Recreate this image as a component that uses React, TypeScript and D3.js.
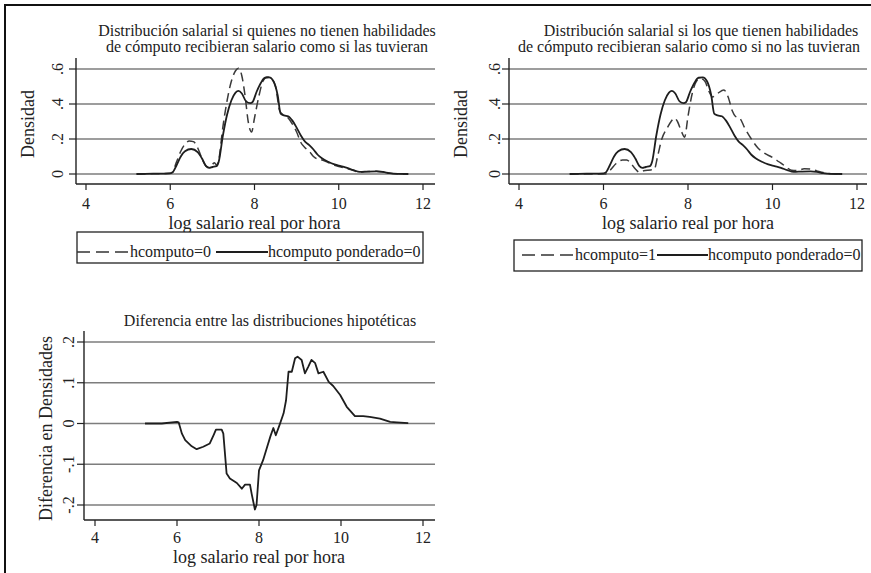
import React from "react";
import * as d3 from "d3";

// log hourly real wage grid points and kernel density estimates
const xPonderado = [5.2, 5.6, 6.0, 6.05, 6.15, 6.25, 6.35, 6.5, 6.65, 6.75, 6.85, 6.92, 7.0, 7.1, 7.15, 7.25, 7.35, 7.45, 7.55, 7.62, 7.7, 7.8, 7.9, 7.95, 8.05, 8.15, 8.25, 8.35, 8.45, 8.55, 8.62, 8.7, 8.8, 8.9, 9.0, 9.1, 9.2, 9.3, 9.4, 9.5, 9.6, 9.75, 9.9, 10.05, 10.2, 10.35, 10.5, 10.7, 10.9, 11.05, 11.2, 11.4, 11.65];
const yPonderado = [0, 0.002, 0.004, 0.008, 0.05, 0.1, 0.13, 0.143, 0.125, 0.09, 0.045, 0.035, 0.04, 0.045, 0.07, 0.22, 0.34, 0.42, 0.465, 0.475, 0.46, 0.415, 0.405, 0.41, 0.47, 0.52, 0.55, 0.552, 0.53, 0.45, 0.345, 0.335, 0.33, 0.305, 0.265, 0.22, 0.185, 0.165, 0.14, 0.11, 0.09, 0.07, 0.055, 0.045, 0.035, 0.022, 0.012, 0.014, 0.015, 0.012, 0.005, 0.001, 0];

const xH0 = [5.2, 6.0, 6.05, 6.15, 6.25, 6.35, 6.45, 6.55, 6.65, 6.75, 6.85, 6.9, 7.0, 7.05, 7.1, 7.15, 7.25, 7.35, 7.45, 7.55, 7.62, 7.7, 7.78, 7.85, 7.93, 8.0, 8.1, 8.2, 8.3, 8.4, 8.5, 8.6, 8.7, 8.8, 8.9, 9.0, 9.1, 9.2, 9.3, 9.4, 9.5, 9.6, 9.75, 9.9, 10.05, 10.2, 10.35, 10.5, 10.7, 10.9, 11.05, 11.2, 11.4, 11.65];
const yH0 = [0, 0.004, 0.01, 0.07, 0.13, 0.17, 0.188, 0.185, 0.15, 0.09, 0.045, 0.04, 0.055, 0.065, 0.05, 0.08, 0.27, 0.42, 0.53, 0.59, 0.605, 0.56, 0.44, 0.3, 0.24, 0.32, 0.44, 0.53, 0.555, 0.545, 0.5, 0.36, 0.335, 0.32, 0.285, 0.24, 0.18, 0.15, 0.13, 0.1, 0.085, 0.08, 0.065, 0.05, 0.04, 0.03, 0.02, 0.01, 0.014, 0.016, 0.012, 0.005, 0.001, 0];

const xH1 = [5.2, 6.05, 6.15, 6.3, 6.45, 6.55, 6.65, 6.75, 6.85, 6.95, 7.05, 7.2, 7.28, 7.38, 7.5, 7.6, 7.68, 7.75, 7.85, 7.92, 8.0, 8.1, 8.2, 8.3, 8.4, 8.5, 8.58, 8.7, 8.85, 8.95, 9.05, 9.12, 9.22, 9.35, 9.5, 9.65, 9.8, 10.0, 10.15, 10.3, 10.45, 10.6, 10.75, 10.9, 11.05, 11.2, 11.4, 11.65];
const yH1 = [0, 0, 0.02, 0.06, 0.08, 0.08, 0.06, 0.03, 0.01, 0.018, 0.022, 0.025, 0.1, 0.2, 0.26, 0.3, 0.32, 0.3, 0.24, 0.21, 0.33, 0.46, 0.53, 0.545, 0.53, 0.47, 0.44, 0.46, 0.48, 0.44, 0.36, 0.33, 0.32, 0.26, 0.2, 0.15, 0.12, 0.095, 0.07, 0.045, 0.022, 0.02, 0.03, 0.028, 0.018, 0.008, 0.002, 0];

const xDiff = [5.22, 5.63, 6.0, 6.04, 6.12, 6.2, 6.36, 6.48, 6.64, 6.8, 6.89, 6.95, 7.09, 7.13, 7.21, 7.29, 7.46, 7.58, 7.66, 7.78, 7.82, 7.9, 7.94, 8.0, 8.1, 8.2, 8.28, 8.35, 8.41, 8.5, 8.6, 8.66, 8.72, 8.8, 8.88, 8.94, 9.04, 9.12, 9.2, 9.28, 9.37, 9.45, 9.57, 9.7, 9.81, 9.98, 10.14, 10.34, 10.54, 10.7, 10.95, 11.2, 11.36, 11.64];
const yDiff = [0, 0, 0.004, 0.003, -0.025, -0.041, -0.056, -0.063, -0.057, -0.049, -0.029, -0.015, -0.015, -0.025, -0.123, -0.135, -0.146, -0.16, -0.15, -0.15, -0.172, -0.211, -0.2, -0.115, -0.09, -0.057, -0.031, -0.011, -0.029, -0.004, 0.025, 0.057, 0.127, 0.127, 0.16, 0.164, 0.156, 0.123, 0.139, 0.156, 0.148, 0.123, 0.127, 0.102, 0.092, 0.07, 0.041, 0.018, 0.018, 0.016, 0.012, 0.004, 0.003, 0.001];

const xTicks = [4, 6, 8, 10, 12];
const yTicksDens = [0, 0.2, 0.4, 0.6];
const yTicksDiff = [-0.2, -0.1, 0, 0.1, 0.2];

const fmt = (v: number) => {
  if (v === 0) return "0";
  const s = String(Math.round(v * 10) / 10);
  return s.replace("0.", ".");
};

const FONT = "'Liberation Serif', 'Times New Roman', serif";

type Series = { xs: number[]; ys: number[]; dashed?: boolean; smooth?: boolean };

type PanelProps = {
  xRange: [number, number];
  axisLeft: number;
  plotRight: number;
  yDomain: [number, number];
  yRange: [number, number];
  axisTop: number;
  axisBottom: number;
  yTicks: number[];
  series: Series[];
  titles: { text: string; x: number; y: number }[];
  yLabel: string;
  yLabelX: number;
  yTickX: number;
  tickBaseline: number;
  xLabelBaseline: number;
};

function Panel(p: PanelProps) {
  const x = d3.scaleLinear().domain([4, 12]).range(p.xRange);
  const y = d3.scaleLinear().domain(p.yDomain).range(p.yRange);
  const yMid = (p.axisTop + p.axisBottom) / 2;
  return (
    <g>
      {p.titles.map((t, i) => (
        <text key={i} x={t.x} y={t.y} textAnchor="middle" fontSize={16} fontFamily={FONT} fill="#222">
          {t.text}
        </text>
      ))}
      {p.yTicks.map((t) => (
        <line key={"g" + t} x1={p.axisLeft} x2={p.plotRight} y1={y(t)} y2={y(t)} stroke="#7d7d7d" strokeWidth={1.5} />
      ))}
      {p.series.map((s, i) => {
        const gen = d3
          .line<number>()
          .x((_, j) => x(s.xs[j]))
          .y((v) => y(v))
          .curve(s.smooth ? d3.curveMonotoneX : d3.curveLinear);
        return (
          <path
            key={i}
            d={gen(s.ys) || ""}
            fill="none"
            stroke={s.dashed ? "#3a3a3a" : "#1e1e1e"}
            strokeWidth={s.dashed ? 1.5 : 1.8}
            strokeDasharray={s.dashed ? "9,5" : undefined}
            strokeLinejoin="round"
          />
        );
      })}
      {/* axes */}
      <line x1={p.axisLeft} x2={p.axisLeft} y1={p.axisTop} y2={p.axisBottom} stroke="#222" strokeWidth={1.4} />
      <line x1={p.axisLeft} x2={p.plotRight} y1={p.axisBottom} y2={p.axisBottom} stroke="#222" strokeWidth={1.4} />
      {p.yTicks.map((t) => (
        <g key={"yt" + t}>
          <line x1={p.axisLeft - 7} x2={p.axisLeft} y1={y(t)} y2={y(t)} stroke="#222" strokeWidth={1.2} />
          <text
            transform={`translate(${p.yTickX},${y(t)}) rotate(-90)`}
            textAnchor="middle"
            dominantBaseline="central"
            fontSize={16}
            fontFamily={FONT}
            fill="#222"
          >
            {fmt(t)}
          </text>
        </g>
      ))}
      {xTicks.map((t) => (
        <g key={"xt" + t}>
          <line x1={x(t)} x2={x(t)} y1={p.axisBottom} y2={p.axisBottom + 6} stroke="#222" strokeWidth={1.2} />
          <text x={x(t)} y={p.tickBaseline} textAnchor="middle" fontSize={16} fontFamily={FONT} fill="#222">
            {t}
          </text>
        </g>
      ))}
      <text x={(x(4) + x(12)) / 2} y={p.xLabelBaseline} textAnchor="middle" fontSize={18} fontFamily={FONT} fill="#222">
        log salario real por hora
      </text>
      <text
        transform={`translate(${p.yLabelX},${yMid + 3}) rotate(-90)`}
        textAnchor="middle"
        dominantBaseline="central"
        fontSize={18}
        fontFamily={FONT}
        fill="#222"
      >
        {p.yLabel}
      </text>
    </g>
  );
}

type LegendProps = {
  left: number;
  top: number;
  width: number;
  height: number;
  dashFrom: number;
  dashTo: number;
  label1: string;
  label1X: number;
  solidFrom: number;
  solidTo: number;
  label2X: number;
  lineY: number;
  baseline: number;
};

function Legend(l: LegendProps) {
  return (
    <g>
      <rect x={l.left} y={l.top} width={l.width} height={l.height} fill="#fff" stroke="#222" strokeWidth={1.3} />
      <line x1={l.dashFrom} x2={l.dashTo} y1={l.lineY} y2={l.lineY} stroke="#333" strokeWidth={1.5} strokeDasharray="13,6" />
      <text x={l.label1X} y={l.baseline} fontSize={16} fontFamily={FONT} fill="#222">
        {l.label1}
      </text>
      <line x1={l.solidFrom} x2={l.solidTo} y1={l.lineY} y2={l.lineY} stroke="#1e1e1e" strokeWidth={1.8} />
      <text x={l.label2X} y={l.baseline} fontSize={16} fontFamily={FONT} fill="#222">
        hcomputo ponderado=0
      </text>
    </g>
  );
}

export default function App() {
  return (
    <svg
      width={871}
      height={573}
      style={{ position: "absolute", left: 0, top: 0, background: "#fff" }}
      xmlns="http://www.w3.org/2000/svg"
    >
      <rect x={0} y={0} width={871} height={573} fill="#fff" />
      <rect x={5} y={5} width={900} height={600} fill="none" stroke="#111" strokeWidth={2} />

      <Panel
        xRange={[86, 423]}
        axisLeft={76}
        plotRight={435}
        yDomain={[0, 0.6]}
        yRange={[174, 69]}
        axisTop={58}
        axisBottom={184}
        yTicks={yTicksDens}
        series={[
          { xs: xH0, ys: yH0, dashed: true, smooth: true },
          { xs: xPonderado, ys: yPonderado, smooth: true },
        ]}
        titles={[
          { text: "Distribución salarial si quienes no tienen habilidades", x: 267, y: 36 },
          { text: "de cómputo recibieran salario como si las tuvieran", x: 267, y: 52 },
        ]}
        yLabel="Densidad"
        yLabelX={28}
        yTickX={57}
        tickBaseline={209}
        xLabelBaseline={229}
      />
      <Legend
        left={77}
        top={232}
        width={346}
        height={31}
        dashFrom={77}
        dashTo={128}
        label1="hcomputo=0"
        label1X={130}
        solidFrom={216}
        solidTo={268}
        label2X={268}
        lineY={252}
        baseline={257}
      />

      <Panel
        xRange={[519, 857]}
        axisLeft={509}
        plotRight={867}
        yDomain={[0, 0.6]}
        yRange={[174, 69]}
        axisTop={58}
        axisBottom={184}
        yTicks={yTicksDens}
        series={[
          { xs: xH1, ys: yH1, dashed: true, smooth: true },
          { xs: xPonderado, ys: yPonderado, smooth: true },
        ]}
        titles={[
          { text: "Distribución salarial si los que tienen habilidades", x: 701, y: 36 },
          { text: "de cómputo recibieran salario como si no las tuvieran", x: 689, y: 52 },
        ]}
        yLabel="Densidad"
        yLabelX={461}
        yTickX={494}
        tickBaseline={209}
        xLabelBaseline={229}
      />
      <Legend
        left={514}
        top={240}
        width={348}
        height={31}
        dashFrom={522}
        dashTo={575}
        label1="hcomputo=1"
        label1X={575}
        solidFrom={657}
        solidTo={708}
        label2X={708}
        lineY={255}
        baseline={260}
      />

      <Panel
        xRange={[95, 423]}
        axisLeft={84}
        plotRight={435}
        yDomain={[-0.2, 0.2]}
        yRange={[505, 342]}
        axisTop={331}
        axisBottom={520}
        yTicks={yTicksDiff}
        series={[{ xs: xDiff, ys: yDiff }]}
        titles={[{ text: "Diferencia entre las distribuciones hipotéticas", x: 270, y: 326 }]}
        yLabel="Diferencia en Densidades"
        yLabelX={46}
        yTickX={68}
        tickBaseline={543}
        xLabelBaseline={563}
      />
    </svg>
  );
}
